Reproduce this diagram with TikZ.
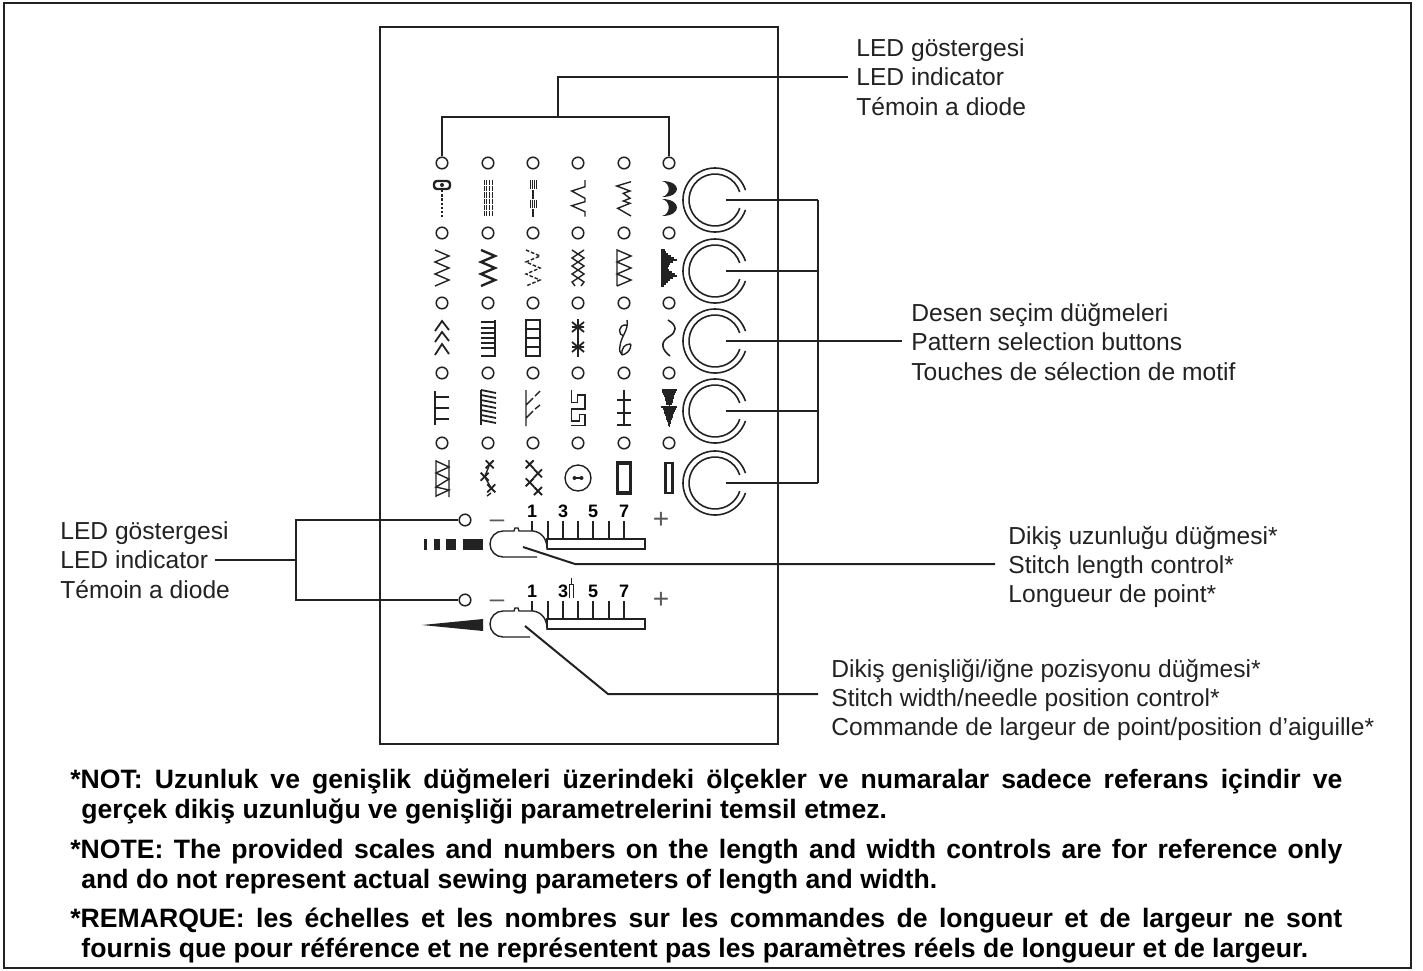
\documentclass[tikz,border=0pt]{standalone}
\usepackage{fontspec}
\setmainfont{Liberation Sans}
\usetikzlibrary{positioning,calc}
\definecolor{inkDark}{HTML}{222222}
\tikzset{
  frameBox/.style={
    draw=inkDark,
    line width=1pt
  },
  leaderLine/.style={
    draw=inkDark,
    line width=1pt
  },
  ledDot/.style={
    circle,
    draw=inkDark,
    fill=white,
    line width=0.75pt,
    minimum size=5.8pt,
    inner sep=0pt
  },
  dialHub/.style={
    circle,
    minimum size=11pt,
    inner sep=0pt
  },
  dialRing/.style={
    draw=inkDark,
    line width=0.8pt
  },
  stitchLine/.style={
    draw=inkDark,
    line width=0.7pt
  },
  stitchBold/.style={
    stitchLine,
    line width=1.2pt
  },
  stitchHair/.style={
    draw=inkDark,
    line width=0.5pt
  },
  labelText/.style={
    align=left,
    anchor=west,
    inner ysep=0pt,
    inner xsep=0pt,
    text=inkDark,
    font=\fontsize{12.3}{14.7}\selectfont
  },
  noteText/.style={
    anchor=north west,
    inner sep=0pt,
    text width=636pt,
    align=justify,
    font=\fontsize{13.3}{14.75}\selectfont\bfseries\sloppy
  },
  scaleNum/.style={
    inner sep=0pt,
    text=black,
    font=\fontsize{9}{9}\selectfont\bfseries
  },
  scaleSign/.style={
    inner sep=0pt,
    text=inkDark!75,
    font=\fontsize{13}{13}\selectfont
  }
}
\begin{document}
\begin{tikzpicture}[x=0.5pt,y=-0.5pt]
  \useasboundingbox (0,0) rectangle (1423,970);
  \draw[frameBox] (4,3) rectangle (1411,968);
  \draw[frameBox] (380,27) rectangle (778,744);

  \foreach \c/\x in {1/442,2/488,3/533,4/578,5/624,6/669}
    \foreach \r/\y in {1/163,2/233,3/303,4/373,5/443}
      \node[ledDot] (led\c\r) at (\x,\y) {};
  \node[ledDot] (ledLength) at (465,520) {};
  \node[ledDot] (ledWidth) at (465,600) {};

  \foreach \i/\y in {1/200,2/271,3/341,4/411,5/483} {
    \node[dialHub] (dial\i) at (715,\y) {};
    \draw[dialRing] ($(dial\i.center)+(18:16pt)$) arc (18:342:16pt);
    \draw[dialRing] ($(dial\i.center)+(18:13pt)$) arc (18:342:13pt);
  }

  \node[labelText, inner xsep=4pt] (topLabel) at (848,77) {LED göstergesi\\LED indicator\\Témoin a diode};
  \node[labelText, inner xsep=4.5pt] (patternLabel) at (902,342) {Desen seçim düğmeleri\\Pattern selection buttons\\Touches de sélection de motif};
  \node[labelText] (leftLabel) at (60,560) {LED göstergesi\\LED indicator\\Témoin a diode};
  \node[labelText, inner xsep=6.5pt] (lengthLabel) at (995,567) {Dikiş uzunluğu düğmesi*\\Stitch length control*\\Longueur de point*};
  \node[labelText, inner xsep=6.5pt] (widthLabel) at (818,700) {Dikiş genişliği/iğne pozisyonu düğmesi*\\Stitch width/needle position control*\\Commande de largeur de point/position d’aiguille*};

  \coordinate (topBus) at (558,117);
  \coordinate (dialBus) at (818,341);
  \coordinate (leftBus) at (296,560);
  \coordinate (leftEnd) at (215,560);
  \coordinate (lengthKnob) at (523,547);
  \coordinate (lengthBend) at (575,564);
  \coordinate (widthKnob) at (525,626);
  \coordinate (widthBend) at (608,694);

  \draw[leaderLine] (led11.north) |- (topBus) -| (led61.north);
  \draw[leaderLine] (topBus) |- (topLabel.west);
  \foreach \i in {1,...,5}
    \draw[leaderLine] (dial\i.east) -- (dial\i.east -| dialBus);
  \draw[leaderLine] (dial1.east -| dialBus) -- (dial5.east -| dialBus);
  \draw[leaderLine] (dialBus) -- (dialBus -| patternLabel.west);

  \draw[leaderLine] (leftEnd) -- (leftBus);
  \draw[leaderLine] (ledLength.west) -| (leftBus) |- (ledWidth.west);

  \foreach \n/\d in {Length/0,Width/80} {
    \foreach \x in {532,563,593,624,548,578,609}
      \draw[stitchLine, line width=0.6pt] (\x,521+\d) -- (\x,539+\d);
    \draw[stitchLine, fill=white] (547,539+\d) rectangle (645,549+\d);
    \node[scaleSign] (minus\n) at (497,524+\d) {–};
    \node[scaleSign, font=\fontsize{14}{14}\selectfont] (plus\n) at (661,520+\d) {+};
  }
  \draw[stitchLine, fill=white] (537,557) -- (503,557) arc (270:90:6.5pt) -- (514,531) -- (515,528) -- (518,528) -- (519,531) -- (533,531) .. controls (541,532) and (547,538) .. (547,549);
  \draw[stitchLine, fill=white] (530,637) -- (503,637) arc (270:90:6.5pt) -- (514,611) -- (515,608) -- (518,608) -- (519,611) -- (533,611) .. controls (541,612) and (547,618) .. (547,629);
  \draw[leaderLine] (lengthKnob) -- (lengthBend) -- (lengthBend -| lengthLabel.west);
  \draw[leaderLine] (widthKnob) -- (widthBend) -- (widthBend -| widthLabel.west);

  \node[scaleNum] (lenOne) at (532,511) {1};
  \node[scaleNum] (lenThree) at (563,511) {3};
  \node[scaleNum] (lenFive) at (593,511) {5};
  \node[scaleNum] (lenSeven) at (624,511) {7};
  \node[scaleNum] (widOne) at (532,591) {1};
  \node[scaleNum] (widThree) at (563,591) {3};
  \node[scaleNum] (widFive) at (593,591) {5};
  \node[scaleNum] (widSeven) at (624,591) {7};
  \draw[stitchHair] (569,598) -- (569,584) -- (573,584) -- (573,598) (571,584) -- (571,578);

  \fill[inkDark] (424,539) rectangle (427,550);
  \fill[inkDark] (434,539) rectangle (440,550);
  \fill[inkDark] (446,539) rectangle (456,550);
  \fill[inkDark] (463,539) rectangle (483,550);
  \fill[inkDark] (422,625) -- (483,619) -- (483,631) -- cycle;

  \draw[stitchBold, rounded corners=1.5pt, shift={(442,200)}] (-8,-19) rectangle (8,-11);
  \fill[inkDark, shift={(442,200)}] (0,-15) circle (1pt);
  \draw[stitchLine, dash pattern=on 1.2pt off 0.9pt, shift={(442,200)}] (0,-10) -- (0,17);
  \foreach \x in {-4,-1.4,1.4,4}
    \draw[stitchHair, dash pattern=on 2.6pt off 0.5pt, shift={(488,200)}] (\x,-20) -- (\x,17);
  \draw[stitchLine, shift={(533,200)}] (0,-10) -- (0,-1) (0,9) -- (0,17);
  \foreach \x in {-3,-1,1,3}
    \draw[stitchHair, line width=0.4pt, shift={(533,200)}] (\x,-20) -- (\x,-11) (\x,0) -- (\x,8);
  \draw[stitchLine, shift={(578,200)}] (7,-20) -- (7,-13.3) -- (-6.3,-9) -- (7,-1.7) -- (7,1.7) -- (-6.3,5.7) -- (7,11.7) -- (7,16.7);
  \draw[stitchLine, shift={(624,200)}] (7,-18.3) -- (-7.3,-14) -- (6,-9) -- (-0.7,-6.7) -- (6,-1.7) -- (-0.7,1) -- (6,3.3) -- (-6.3,8.3) -- (7,16);
  \fill[inkDark, shift={(669,200)}] (-7,-19) .. controls (13,-19) and (13,-3) .. (-7,-3) .. controls (2,-5) and (2,-17) .. cycle (-7,-1) .. controls (13,-1) and (13,16) .. (-7,16) .. controls (2,14) and (2,1) .. cycle;

  \draw[stitchLine, shift={(442,268)}] (-7,-18) -- (7,-12) -- (-7,-6) -- (7,0) -- (-7,6) -- (7,12) -- (-7,18);
  \draw[stitchBold, shift={(488,268)}] (-7,-18) -- (7,-12) -- (-7,-6) -- (7,0) -- (-7,6) -- (7,12) -- (-7,18);
  \draw[stitchLine, dash pattern=on 1.8pt off 0.9pt, shift={(533,268)}] (-7,-18) -- (7,-12) -- (-7,-6) -- (7,0) -- (-7,6) -- (7,12) -- (-7,18);
  \draw[stitchLine, shift={(578,268)}] (-6,-18) -- (6,-10) -- (-6,-2) -- (6,6) -- (-6,14) -- (-3,18) (6,-18) -- (-6,-10) -- (6,-2) -- (-6,6) -- (6,14) -- (3,18);
  \draw[stitchLine, shift={(624,268)}] (-7,18) -- (-7,-18) -- (7,-12) -- (-7,-6) -- (7,0) -- (-7,6) -- (7,12) -- (-7,18);
  \foreach \y/\l in {-18/-4,-16/-3,-14/-1,-12/2,-10/5,-8/8,-6/4,-4/1,-2/0,0/-1,2/0,4/3,6/6,8/8,10/4,12/1,14/-1,16/-3,18/-5}
    \draw[stitchLine, shift={(669,268)}] (-8,\y) -- (\l,\y);

  \draw[stitchLine, line width=0.9pt, shift={(442,338)}] (-7,-7) -- (0,-17) -- (7,-8) (-7,4) -- (0,-6) -- (7,3) (-7,17) -- (0,6) -- (7,16);
  \draw[stitchLine, line width=0.9pt, shift={(488,338)}] (7,-18) -- (7,18) -- (-7,18);
  \foreach \y in {-16,-10,-5,0,5,10}
    \draw[stitchLine, shift={(488,338)}] (-7,\y) -- (7,\y);
  \draw[stitchLine, line width=0.9pt, shift={(533,338)}] (-7,-18) rectangle (7,18);
  \foreach \y in {-9,0,9}
    \draw[stitchLine, shift={(533,338)}] (-7,\y) -- (7,\y);
  \draw[stitchLine, shift={(578,338)}] (0,-19) -- (0,19);
  \foreach \y in {-11,9}
    \draw[stitchLine, line width=0.9pt, shift={(578,338)}] (-6,\y-5) -- (6,\y+5) (6,\y-5) -- (-6,\y+5) (-6,\y) -- (6,\y);
  \draw[stitchLine, shift={(624,338)}] (3,-18) .. controls (5,-8) and (-3,-2) .. (-4,8) .. controls (-5,12) and (-4,15) .. (-2,17) (3,-13) .. controls (-7,-14) and (-6,-2) .. (0,-2) (-2,17) .. controls (7,15) and (8,5) .. (6,6) .. controls (1,6) and (-3,10) .. (-2,17);
  \draw[stitchLine, line width=0.8pt, shift={(669,338)}] (-1,-18) .. controls (9,-12) and (7,-6) .. (1,-2) .. controls (-10,4) and (-7,12) .. (1,18);

  \draw[stitchLine, shift={(442,408)}] (-7,-17) -- (-7,17) (-7,-11) -- (7,-11) (-7,0) -- (7,0) (-7,11) -- (7,11);
  \draw[stitchLine, line width=0.9pt, shift={(488,408)}] (-7,17) -- (-7,-18);
  \foreach \y in {-18,-13,-8,-3,2,7,12}
    \draw[stitchLine, line width=0.9pt, shift={(488,408)}] (-7,\y) -- (8,\y+3);
  \draw[stitchLine, shift={(533,408)}] (-7,-18) -- (-7,18) (-7,-3) -- (0,-10) (2,-12) -- (7,-17) (-7,10) -- (0,3) (2,1) -- (7,-3);
  \draw[stitchLine, line width=0.6pt, shift={(578,408)}] (-6.3,-18) -- (-6.3,-5.7) -- (-0.7,-5.7) -- (-0.7,-13) -- (7,-13) -- (7,1) -- (-6.3,1) -- (-6.3,13) -- (1.3,13) -- (1.3,6.3) -- (7,6.3) -- (7,17.7) -- (-7.3,17.7);
  \draw[stitchLine, shift={(624,408)}] (0,-18) -- (0,18) (-7,-8) -- (7,-8) (-7,5) -- (7,5) (-7,17) -- (7,17);
  \foreach \y/\l in {-18/7.5,-16/7,-14/6,-12/5,-10/4.5,-8/4,-6/3.5,-4/3,-1/8,1/6.5,3/5.5,5/5,7/4,9/3.5,11/3,13/2,15/1.5,17/1}
    \draw[stitchLine, shift={(669,408)}] (-\l,\y) -- (\l,\y);
  \draw[stitchHair, shift={(669,408)}] (0,-18) -- (0,19);

  \draw[stitchLine, shift={(442,478)}] (-6,-18) -- (-6,19) (7,-18) -- (7,19) (-6,-17) -- (7,-11) -- (-6,-5) -- (7,1) -- (-6,9) -- (7,12) -- (-6,18);
  \foreach \x/\y in {1.7/-13.7,-3.3/-1.3,3.3/10.3}
    \draw[stitchLine, line width=0.9pt, shift={(488,478)}] (\x-4,\y-4) -- (\x+4,\y+4) (\x-4,\y+4) -- (\x+4,\y-4);
  \draw[stitchLine, shift={(488,478)}] (1.7,-13.7) -- (-3.3,-1.3) -- (3.3,10.3) (3,15) -- (-1,18);
  \foreach \x/\y in {-3.3/-13.7,5/-4.7,-3.3/4.3,5/13}
    \draw[stitchLine, line width=0.9pt, shift={(533,478)}] (\x-4,\y-4) -- (\x+4,\y+4) (\x-4,\y+4) -- (\x+4,\y-4);
  \draw[stitchLine, shift={(533,478)}] (-3.3,-13.7) -- (5,-4.7) -- (-3.3,4.3) -- (5,13);
  \node[circle, draw=inkDark, line width=0.7pt, minimum size=13pt, inner sep=0pt] (buttonRing) at (578,478) {};
  \draw[stitchBold, shift={(578,478)}] (-3.5,0) -- (3.5,0);
  \fill[inkDark, shift={(578,478)}] (-3.5,0) circle (1pt) (3.5,0) circle (1pt);
  \draw[stitchBold, line width=1.6pt, shift={(624,478)}] (-6.5,-15) rectangle (6.5,15);
  \draw[stitchBold, line width=1.2pt, shift={(669,478)}] (-3.5,-15) rectangle (3.5,15);

  \node[noteText] (noteTr) at (70,769) {*NOT: Uzunluk ve genişlik düğmeleri üzerindeki ölçekler ve numaralar sadece referans içindir ve\linebreak\hspace*{5.5pt}gerçek dikiş uzunluğu ve genişliği parametrelerini temsil etmez.};
  \node[noteText] (noteEn) at (70,839) {*NOTE: The provided scales and numbers on the length and width controls are for reference only\linebreak\hspace*{5.5pt}and do not represent actual sewing parameters of length and width.};
  \node[noteText] (noteFr) at (70,908) {*REMARQUE: les échelles et les nombres sur les commandes de longueur et de largeur ne sont\linebreak\hspace*{5.5pt}fournis que pour référence et ne représentent pas les paramètres réels de longueur et de largeur.};
\end{tikzpicture}
\end{document}
